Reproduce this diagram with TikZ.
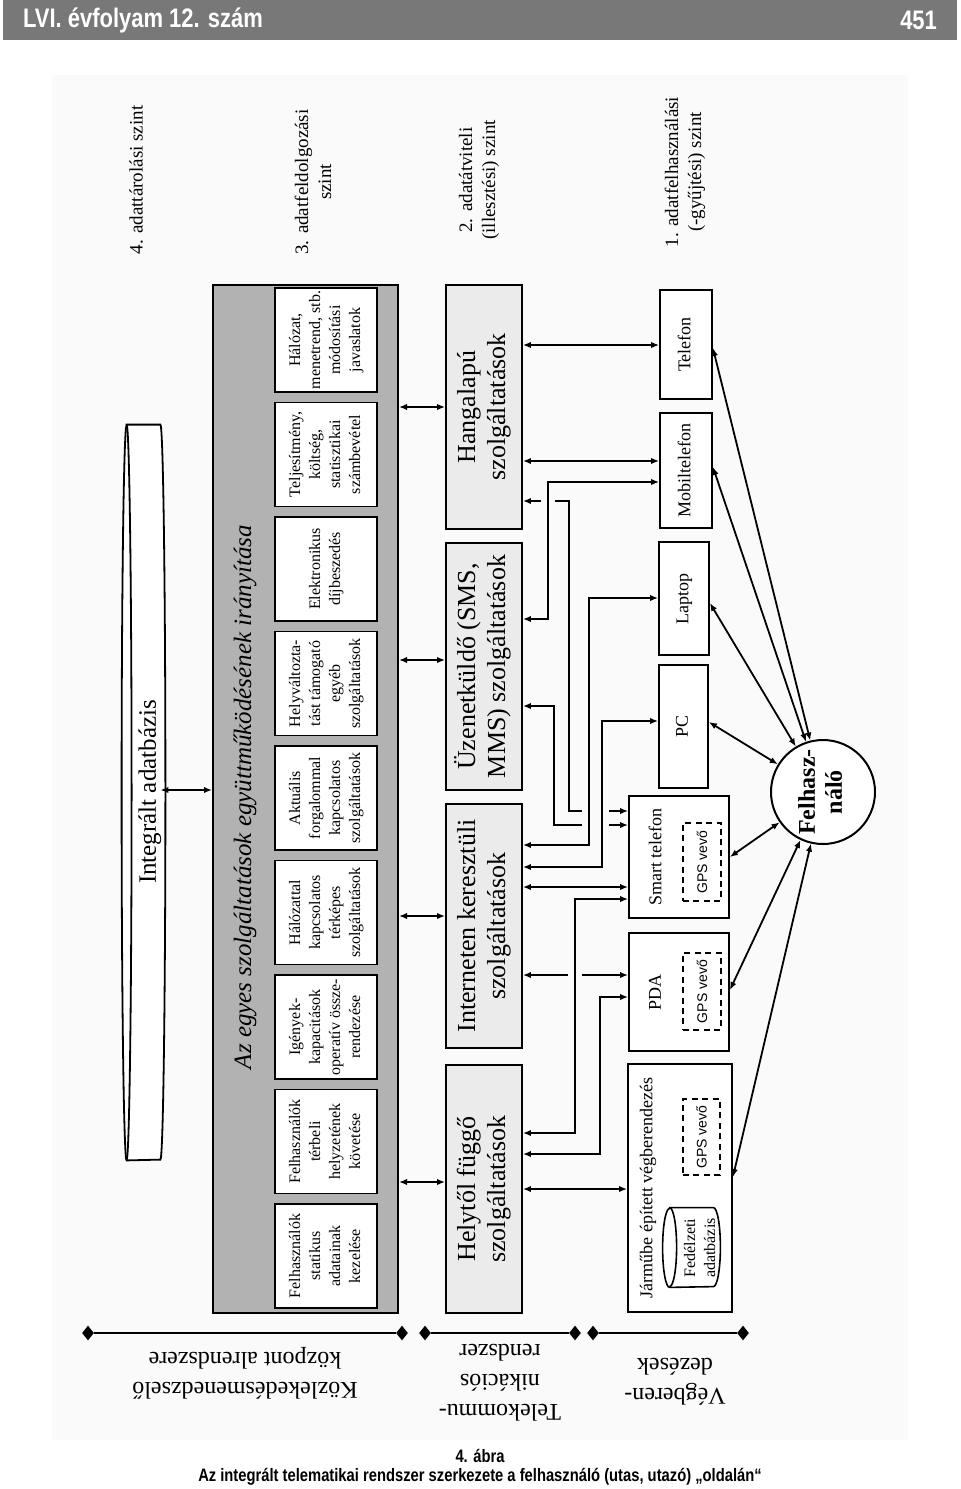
\documentclass[tikz,border=0pt]{standalone}
\usepackage{fontspec}
\setmainfont{Liberation Serif}
\newfontfamily\hdrfont[FakeStretch=0.82]{Liberation Sans}
\newfontfamily\gpsfont{Liberation Sans}
\usetikzlibrary{arrows.meta,shapes.geometric,calc}
\newcommand\rt[1]{\rotatebox{90}{\begin{tabular}{@{}c@{}}#1\end{tabular}}}
\newcommand\rtf[1]{\rotatebox{180}{\begin{tabular}{@{}c@{}}#1\end{tabular}}}
\begin{document}
\begin{tikzpicture}[x=0.5pt,y=-0.5pt,
  >={Latex[length=4pt,width=3.2pt]},
  conn/.style={line width=0.9pt,<->},
  halo/.style={preaction={draw=black!2,line width=7pt,arrows=-,shorten <=6pt,shorten >=6pt}},
  box/.style={draw,line width=0.9pt,inner sep=0pt,fill=white},
  inner/.style={box,minimum width=51pt,minimum height=52pt,font=\fontsize{8}{10}\selectfont},
  svc/.style={box,fill=black!8,minimum width=38pt,font=\fontsize{13}{15}\selectfont},
  dev/.style={box,font=\fontsize{9}{11}\selectfont},
  gps/.style={draw,line width=0.9pt,dash pattern=on 3pt off 2.2pt,inner sep=0pt,minimum width=19pt,font=\gpsfont\fontsize{7}{8}\selectfont},
  lvl/.style={font=\fontsize{9.5}{11.5}\selectfont},
  dia/.style={diamond,fill,inner sep=0pt,minimum width=6pt,minimum height=7.5pt},
  bar/.style={line width=1pt},
  blbl/.style={font=\fontsize{12}{15}\selectfont},
  captxt/.style={font=\hdrfont\bfseries\fontsize{9}{11}\selectfont}
]
\useasboundingbox (0,0) rectangle (960,1489);
\fill[black!2] (52,75) rectangle (908,1440);
% header
\node[fill=black!53,minimum width=477pt,minimum height=20pt,inner sep=0] (hdr) at (480,20) {};
\node[anchor=west,text=white,font=\hdrfont\bfseries\fontsize{13.4}{16}\selectfont] (hdrl) at (16,20) {LVI. évfolyam 12. szám};
\node[anchor=east,text=white,font=\hdrfont\bfseries\fontsize{13.4}{16}\selectfont] (hdrr) at (944,20) {451};
% level labels
\node[lvl] (lvl4) at (138,180) {\rt{4. adattárolási szint}};
\node[lvl] (lvl3) at (315,182) {\rt{3. adatfeldolgozási\\szint}};
\node[lvl] (lvl2) at (479,180) {\rt{2. adatátviteli\\(illesztési) szint}};
\node[lvl] (lvl1) at (685,172) {\rt{1. adatfelhasználási\\(-gyűjtési) szint}};
% integrated database cylinder
\node[minimum width=16.5pt,minimum height=367.5pt,inner sep=0] (db) at (143.5,792.5) {};
\draw[line width=0.9pt,fill=white] (db.north west) -- (db.north east)
  arc[start angle=90,end angle=-90,x radius=2.5pt,y radius=183.75pt] -- (db.south west)
  arc[start angle=270,end angle=90,x radius=2.5pt,y radius=183.75pt] -- cycle;
\draw[line width=0.9pt] (db.north west) arc[start angle=90,end angle=-90,x radius=2.5pt,y radius=183.75pt];
\node[font=\fontsize{12.5}{14}\selectfont] (dblbl) at (150,792) {\rotatebox{90}{Integrált adatbázis}};
% grey box
\node[draw,line width=1pt,fill=black!30,minimum width=92.5pt,minimum height=514pt,inner sep=0] (grey) at (305.5,799) {};
\node[font=\itshape\fontsize{12.5}{14}\selectfont] (ttl) at (245,797) {\rotatebox{90}{Az egyes szolgáltatások együttműködésének irányítása}};
\node[inner] (b1) at (326,340) {\rt{Hálózat,\\menetrend, stb.\\módosítási\\javaslatok}};
\node[inner] (b2) at (326,454.5) {\rt{Teljesítmény,\\költség,\\statisztikai\\számbevétel}};
\node[inner] (b3) at (326,569) {\rt{Elektronikus\\díjbeszedés}};
\node[inner] (b4) at (326,683.5) {\rt{Helyváltozta-\\tást támogató\\egyéb\\szolgáltatások}};
\node[inner] (b5) at (326,798) {\rt{Aktuális\\forgalommal\\kapcsolatos\\szolgáltatások}};
\node[inner] (b6) at (326,912.5) {\rt{Hálózattal\\kapcsolatos\\térképes\\szolgáltatások}};
\node[inner] (b7) at (326,1027) {\rt{Igények-\\kapacitások\\operatív össze-\\rendezése}};
\node[inner] (b8) at (326,1141.5) {\rt{Felhasználók\\térbeli\\helyzetének\\követése}};
\node[inner] (b9) at (326,1256) {\rt{Felhasználók\\statikus\\adatainak\\kezelése}};
% services
\node[svc,minimum height=122pt] (hang) at (484,407) {\rt{Hangalapú\\szolgáltatások}};
\node[svc,minimum height=123.5pt] (uzen) at (484,666.5) {\rt{Üzenetküldő (SMS,\\MMS) szolgáltatások}};
\node[svc,minimum height=122pt] (inet) at (484,926) {\rt{Interneten keresztüli\\szolgáltatások}};
\node[svc,minimum height=124pt] (hely) at (484,1189) {\rt{Helytől függő\\szolgáltatások}};
% devices
\node[dev,minimum width=26pt,minimum height=54.5pt] (tel) at (686,344.5) {\rt{Telefon}};
\node[dev,minimum width=26pt,minimum height=57.5pt] (mob) at (686,470.5) {\rt{Mobiltelefon}};
\node[dev,minimum width=25pt,minimum height=56.5pt] (lap) at (684,598.5) {\rt{Laptop}};
\node[dev,minimum width=24.5pt,minimum height=61.5pt] (pc) at (683.5,726.5) {\rt{PC}};
\node[dev,minimum width=50pt,minimum height=61pt] (smart) at (679,857) {};
\node[font=\fontsize{9}{11}\selectfont] (smartlbl) at (655,857) {\rotatebox{90}{Smart telefon}};
\node[gps,minimum height=39pt] (gps1) at (702,862) {\rotatebox{90}{GPS vevő}};
\node[dev,minimum width=50pt,minimum height=59pt] (pda) at (679,992) {};
\node[font=\fontsize{9}{11}\selectfont] (pdalbl) at (655,992) {\rotatebox{90}{PDA}};
\node[gps,minimum height=38.5pt] (gps2) at (702,991.5) {\rotatebox{90}{GPS vevő}};
\node[dev,minimum width=52pt,minimum height=124pt] (veh) at (680,1188) {};
\node[font=\fontsize{9}{11}\selectfont] (vehlbl) at (648,1188) {\rotatebox{90}{Járműbe épített végberendezés}};
\node[gps,minimum width=18.5pt,minimum height=38pt] (gps3) at (701.5,1137) {\rotatebox{90}{GPS vevő}};
\node[minimum width=21.5pt,minimum height=39.5pt,inner sep=0] (fdb) at (691.5,1247.5) {};
\draw[line width=0.8pt,fill=white] (fdb.north west) -- (fdb.north east)
  arc[start angle=90,end angle=-90,x radius=3.5pt,y radius=19.75pt] -- (fdb.south west)
  arc[start angle=270,end angle=90,x radius=3.5pt,y radius=19.75pt] -- cycle;
\draw[line width=0.8pt] (fdb.north west) arc[start angle=90,end angle=-90,x radius=3.5pt,y radius=19.75pt];
\node[font=\fontsize{8}{10}\selectfont] (fdblbl) at (701,1248) {\rt{Fedélzeti\\adatbázis}};
% user
\node[draw,circle,line width=1pt,minimum size=52pt,inner sep=0,fill=white,font=\bfseries\fontsize{12}{13.5}\selectfont] (user) at (823,792) {\rt{Felhasz-\\náló}};
% database <-> grey, grey <-> services
\draw[conn] (db.east |- 0,790) -- (grey.west |- 0,790);
\draw[conn] (grey.east |- 0,407) -- (hang.west |- 0,407);
\draw[conn] (grey.east |- 0,660) -- (uzen.west |- 0,660);
\draw[conn] (grey.east |- 0,916) -- (inet.west |- 0,916);
\draw[conn] (grey.east |- 0,1182) -- (hely.west |- 0,1182);
% services <-> devices (plain)
\draw[conn] (hang.east |- 0,345) -- (tel.west |- 0,345);
\draw[conn] (hang.east |- 0,461) -- (mob.west |- 0,461);
\draw[conn] (hang.east |- 0,501) -| (569,811) -- (smart.west |- 0,811);
\draw[conn] (uzen.east |- 0,706) -| (554,825) -- (smart.west |- 0,825);
\draw[conn] (inet.east |- 0,887) -- (smart.west |- 0,887);
\draw[conn] (inet.east |- 0,975) -- (pda.west |- 0,975);
\draw[conn] (hely.east |- 0,1154) -| (600,997) -- (pda.west |- 0,997);
\draw[conn] (hely.east) -- (veh.west |- hely.east);
% services <-> devices (crossing over)
\draw[conn,halo] (uzen.east |- 0,619) -| (548,482) -- (mob.west |- 0,482);
\draw[conn,halo] (inet.east |- 0,845) -| (589,598) -- (lap.west |- 0,598);
\draw[conn,halo] (inet.east |- 0,867) -| (602,721) -- (pc.west |- 0,721);
\draw[conn,halo] (hely.east |- 0,1133) -| (575,899) -- (smart.west |- 0,899);
% devices <-> user
\draw[conn] (tel.east |- 0,348) -- (user);
\draw[conn] (mob.east |- 0,467) -- (user);
\draw[conn] (lap.east |- 0,603) -- (user);
\draw[conn] (pc.east |- 0,722) -- (user);
\draw[conn] (smart.east) -- (user);
\draw[conn] (pda.east |- 0,990) -- (user);
\draw[conn] (veh.east |- 0,1177) -- (user);
% bottom bars
\node[dia] (k1a) at (88,1333) {};
\node[dia] (k1b) at (402,1333) {};
\node[dia] (k2a) at (425,1333) {};
\node[dia] (k2b) at (575,1333) {};
\node[dia] (k3a) at (593,1333) {};
\node[dia] (k3b) at (743,1333) {};
\draw[bar] (k1a) -- (k1b);
\draw[bar] (k2a) -- (k2b);
\draw[bar] (k3a) -- (k3b);
\node[blbl] (l1) at (245,1373) {\rtf{Közlekedésmenedzselő\\központ alrendszere}};
\node[blbl] (l2) at (500,1380) {\rtf{Telekommu-\\nikációs\\rendszer}};
\node[blbl] (l3) at (675,1379) {\rtf{Végberen-\\dezések}};
% caption
\node[captxt] (cap1) at (480,1456) {4. ábra};
\node[captxt] (cap2) at (480,1477) {Az integrált telematikai rendszer szerkezete a felhasználó (utas, utazó) „oldalán“};
\end{tikzpicture}
\end{document}
